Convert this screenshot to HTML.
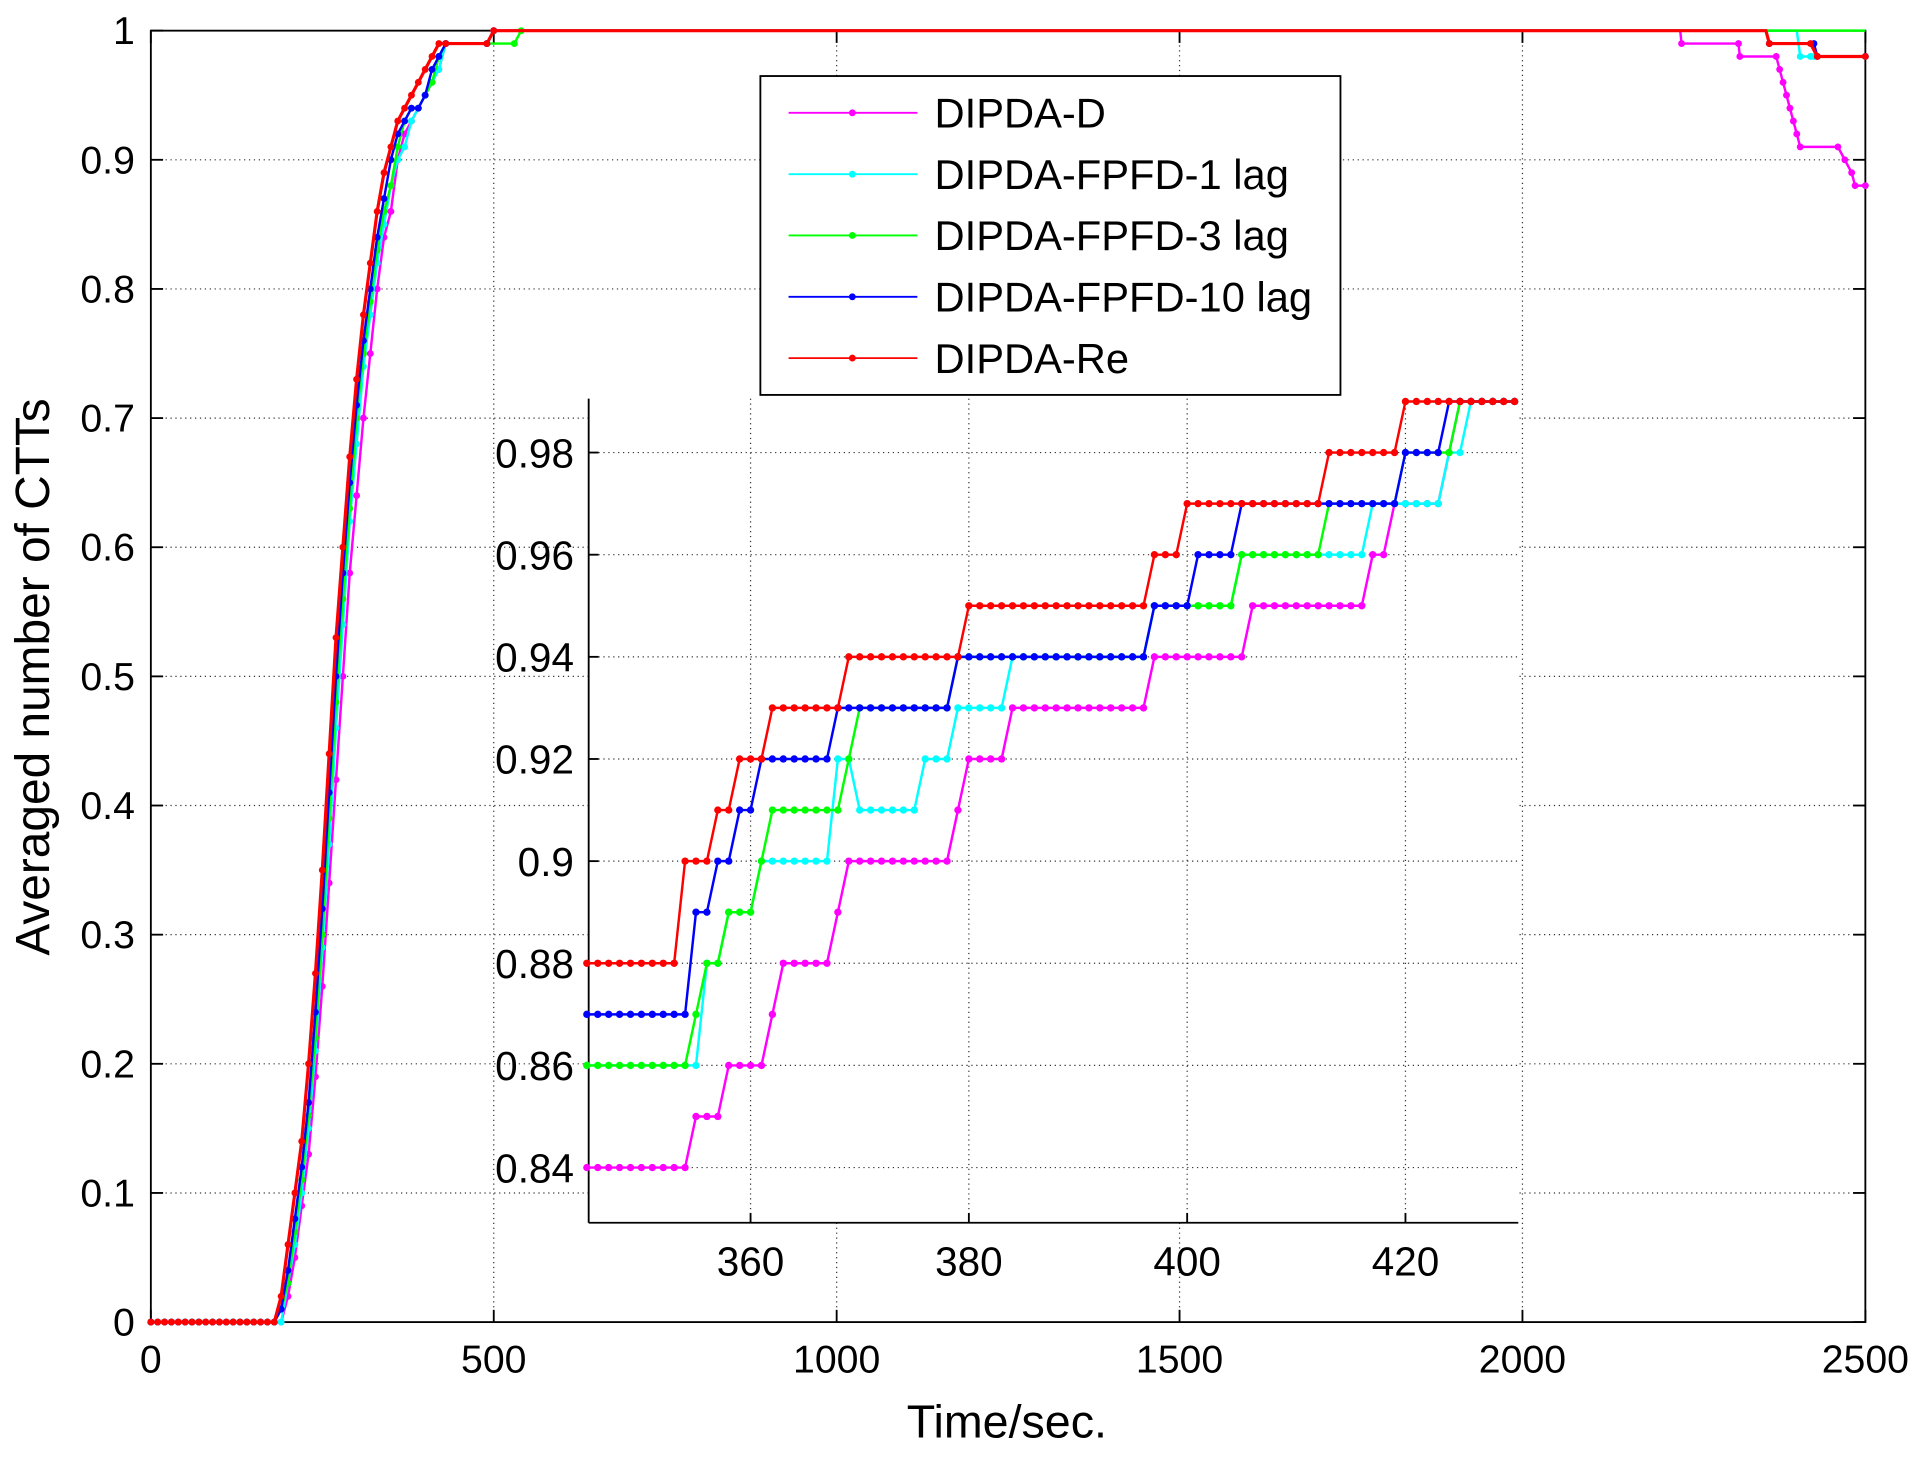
<!DOCTYPE html>
<html><head><meta charset="utf-8"><style>
html,body{margin:0;padding:0;background:#fff;}
svg{display:block;font-family:"Liberation Sans",Arial,sans-serif;}
</style></head><body>
<svg id="chart" width="1923" height="1457" viewBox="0 0 1568 1188" preserveAspectRatio="none" xmlns="http://www.w3.org/2000/svg">
<rect x="0" y="0" width="1568" height="1188" fill="#fff"/>
<g id="main"></g>
<g id="inset"></g>
<g id="legend"></g>
</svg>
<script>
// ---------- data ----------
const seriesNames = ["DIPDA-D","DIPDA-FPFD-1 lag","DIPDA-FPFD-3 lag","DIPDA-FPFD-10 lag","DIPDA-Re"];
const seriesColors = ["#ff00ff","#00ffff","#00ff00","#0000ff","#ff0000"];
const xTicks = [0,500,1000,1500,2000,2500];
const yTicks = [0,0.1,0.2,0.3,0.4,0.5,0.6,0.7,0.8,0.9,1];
const yTickLabels = ["0","0.1","0.2","0.3","0.4","0.5","0.6","0.7","0.8","0.9","1"];
// rise phase, t = 180..430 every 10 s
const riseStart = 180;
const riseStep = 10;
const riseD  = [0,0,0.02,0.05,0.09,0.13,0.19,0.26,0.34,0.42,0.5,0.58,0.64,0.7,0.75,0.8,0.84,0.86,0.9,0.92,0.93,0.94,0.95,0.96,0.97,0.99];
const riseF1 = [0,0,0.03,0.06,0.1,0.15,0.21,0.29,0.37,0.46,0.54,0.62,0.68,0.74,0.78,0.82,0.85,0.88,0.9,0.91,0.93,0.94,0.95,0.96,0.97,0.99];
const riseF3 = [0,0.01,0.03,0.07,0.11,0.16,0.22,0.3,0.39,0.48,0.56,0.63,0.7,0.75,0.79,0.83,0.86,0.88,0.91,0.93,0.94,0.94,0.95,0.96,0.98,0.99];
const riseF10= [0,0.01,0.04,0.08,0.12,0.17,0.24,0.32,0.41,0.5,0.58,0.65,0.71,0.76,0.8,0.84,0.87,0.9,0.92,0.93,0.94,0.94,0.95,0.97,0.98,0.99];
const riseRe = [0,0.02,0.06,0.1,0.14,0.2,0.27,0.35,0.44,0.53,0.6,0.67,0.73,0.78,0.82,0.86,0.89,0.91,0.93,0.94,0.95,0.96,0.97,0.98,0.99,0.99];
// tail phase [time, value]
const tailD  = [[490,0.99],[500,1],[2230,1],[2232,0.99],[2315,0.99],[2317,0.98],[2370,0.98],[2375,0.97],[2380,0.96],[2385,0.95],[2390,0.94],[2395,0.93],[2400,0.92],[2405,0.91],[2460,0.91],[2470,0.9],[2480,0.89],[2485,0.88],[2500,0.88]];
const tailF1 = [[490,0.99],[500,1],[2400,1],[2405,0.98],[2420,0.98],[2425,0.98],[2500,0.98]];
const tailF3 = [[530,0.99],[540,1],[2500,1]];
const tailF10= [[490,0.99],[500,1],[2355,1],[2360,0.99],[2425,0.99],[2430,0.98],[2500,0.98]];
const tailRe = [[490,0.99],[500,1],[2355,1],[2360,0.99],[2420,0.99],[2430,0.98],[2500,0.98]];
// inset: run-length [value, count], seconds from 345
const insetStart = 345;
const insetXTicks = [360,380,400,420];
const insetYTicks = [0.84,0.86,0.88,0.9,0.92,0.94,0.96,0.98];
const insetYLabels = ["0.84","0.86","0.88","0.9","0.92","0.94","0.96","0.98"];
const runD  = [[0.84,10],[0.85,3],[0.86,4],[0.87,1],[0.88,5],[0.89,1],[0.90,10],[0.91,1],[0.92,4],[0.93,13],[0.94,9],[0.95,11],[0.96,2],[0.97,5],[0.98,1],[0.99,6]];
const runF1 = [[0.86,11],[0.88,2],[0.89,3],[0.90,7],[0.92,2],[0.91,6],[0.92,3],[0.93,5],[0.94,13],[0.95,8],[0.96,12],[0.97,7],[0.98,2],[0.99,5]];
const runF3 = [[0.86,10],[0.87,1],[0.88,2],[0.89,3],[0.90,1],[0.91,7],[0.92,1],[0.93,9],[0.94,18],[0.95,8],[0.96,8],[0.97,7],[0.98,5],[0.99,6]];
const runF10= [[0.87,10],[0.89,2],[0.90,2],[0.91,2],[0.92,7],[0.93,11],[0.94,18],[0.95,4],[0.96,4],[0.97,15],[0.98,4],[0.99,7]];
const runRe = [[0.88,9],[0.90,3],[0.91,2],[0.92,3],[0.93,7],[0.94,11],[0.95,17],[0.96,3],[0.97,13],[0.98,7],[0.99,11]];

const rises=[riseD,riseF1,riseF3,riseF10,riseRe];
const tails=[tailD,tailF1,tailF3,tailF10,tailRe];
const runs=[runD,runF1,runF3,runF10,runRe];

// ---------- helpers ----------
const NS="http://www.w3.org/2000/svg";
function mk(tag,attrs,parent){const e=document.createElementNS(NS,tag);for(const k in attrs)e.setAttribute(k,attrs[k]);parent.appendChild(e);return e;}
const X0=123,X1=1521,Y0=1078,Y1=25;
const sx=t=>X0+(t-0)/(2500-0)*(X1-X0);
const sy=v=>Y0-(v-0)/(1-0)*(Y0-Y1);
const IX0=480,IX1=1238,IY0=997,IY1=325;
const ixs=t=>612+(t-360)*(790-612)/20;
const iys=v=>952-(v-0.84)*(952-369)/0.14;

const main=document.getElementById('main');
xTicks.forEach((t,i)=>{
  if(i>0&&i<xTicks.length-1){const g=mk('line',{x1:sx(t),x2:sx(t),y1:Y1,y2:Y0,stroke:'#333','stroke-width':1,'stroke-dasharray':'1,3'},main);
  
  }
  const tk=mk('text',{x:sx(t),y:Y0+41,'text-anchor':'middle','font-size':32,fill:'#000'},main);
  tk.textContent=t;
  
  
  mk('line',{x1:sx(t),x2:sx(t),y1:Y0,y2:Y0-10,stroke:'#000','stroke-width':1.5},main);
  mk('line',{x1:sx(t),x2:sx(t),y1:Y1,y2:Y1+10,stroke:'#000','stroke-width':1.5},main);
});
yTicks.forEach((v,i)=>{
  if(i>0&&i<yTicks.length-1){const g=mk('line',{x1:X0,x2:X1,y1:sy(v),y2:sy(v),stroke:'#333','stroke-width':1,'stroke-dasharray':'1,3'},main);
  
  }
  const tk=mk('text',{x:X0-13,y:sy(v)+11,'text-anchor':'end','font-size':32,fill:'#000'},main);
  tk.textContent=yTickLabels[i];
  
  
  mk('line',{x1:X0,x2:X0+10,y1:sy(v),y2:sy(v),stroke:'#000','stroke-width':1.5},main);
  mk('line',{x1:X1,x2:X1-10,y1:sy(v),y2:sy(v),stroke:'#000','stroke-width':1.5},main);
});
const mbox=mk('rect',{x:X0,y:Y1,width:X1-X0,height:Y0-Y1,fill:'none',stroke:'#000','stroke-width':1.5},main);


const xt=mk('text',{x:821,y:1172,'text-anchor':'middle','font-size':38,fill:'#000'},main);
xt.textContent='Time/sec.';


const yt=mk('text',{x:0,y:0,'text-anchor':'middle','font-size':39,fill:'#000',transform:'translate(40,552) rotate(-90)'},main);
yt.textContent='Averaged number of CTTs';



for(let s=0;s<5;s++){
  const pts=[];
  for(let t=0;t<riseStart;t+=riseStep)pts.push([t,0]);
  rises[s].forEach((v,i)=>pts.push([riseStart+i*riseStep,v]));
  tails[s].forEach(p=>pts.push(p));
  const g=mk('g',{},main);
  
  
  mk('polyline',{points:pts.map(p=>sx(p[0])+','+sy(p[1])).join(' '),fill:'none',stroke:seriesColors[s],'stroke-width':s==4?2.6:2},g);
  pts.forEach(p=>{if(p[0]<=560||p[1]<1)mk('circle',{cx:sx(p[0]),cy:sy(p[1]),r:2.8,fill:seriesColors[s]},g);});
}

const inset=document.getElementById('inset');
mk('rect',{x:IX0,y:IY1,width:IX1-IX0,height:IY0-IY1,fill:'#fff'},inset);
insetXTicks.forEach(t=>{
  mk('line',{x1:ixs(t),x2:ixs(t),y1:IY1,y2:IY0,stroke:'#333','stroke-width':1,'stroke-dasharray':'1,3'},inset);
  mk('line',{x1:ixs(t),x2:ixs(t),y1:IY0,y2:IY0-8,stroke:'#000','stroke-width':1.5},inset);
  const tk=mk('text',{x:ixs(t),y:IY0+43,'text-anchor':'middle','font-size':33,fill:'#000'},inset);
  tk.textContent=t;
  
  
});
insetYTicks.forEach((v,i)=>{
  mk('line',{x1:IX0,x2:IX1,y1:iys(v),y2:iys(v),stroke:'#333','stroke-width':1,'stroke-dasharray':'1,3'},inset);
  mk('line',{x1:IX0,x2:IX0+8,y1:iys(v),y2:iys(v),stroke:'#000','stroke-width':1.5},inset);
  const tk=mk('text',{x:IX0-12,y:iys(v)+12,'text-anchor':'end','font-size':33,fill:'#000'},inset);
  tk.textContent=insetYLabels[i];
  
  
});
mk('line',{x1:IX0,x2:IX0,y1:IY1,y2:IY0,stroke:'#000','stroke-width':1.5},inset);
mk('line',{x1:IX0,x2:IX1,y1:IY0,y2:IY0,stroke:'#000','stroke-width':1.5},inset);
for(let s=0;s<5;s++){
  const pts=[];let t=insetStart;
  runs[s].forEach(r=>{for(let k=0;k<r[1];k++){pts.push([t,r[0]]);t++;}});
  const g=mk('g',{},inset);
  
  
  mk('polyline',{points:pts.map(p=>ixs(p[0])+','+iys(p[1])).join(' '),fill:'none',stroke:seriesColors[s],'stroke-width':2},g);
  pts.forEach(p=>mk('circle',{cx:ixs(p[0]),cy:iys(p[1]),r:3,fill:seriesColors[s]},g));
}

const leg=document.getElementById('legend');
mk('rect',{x:620,y:62,width:473,height:260,fill:'#fff',stroke:'#000','stroke-width':1.5},leg);
seriesNames.forEach((n,i)=>{
  const y=92+i*50;
  const g=mk('g',{},leg);
  
  
  mk('line',{x1:643,x2:748,y1:y,y2:y,stroke:seriesColors[i],'stroke-width':1.5},g);
  mk('circle',{cx:695,cy:y,r:2.8,fill:seriesColors[i]},g);
  const tx=mk('text',{x:762,y:y+12,'font-size':34,fill:'#000'},g);
  tx.textContent=n;
});
</script>
</body></html>
